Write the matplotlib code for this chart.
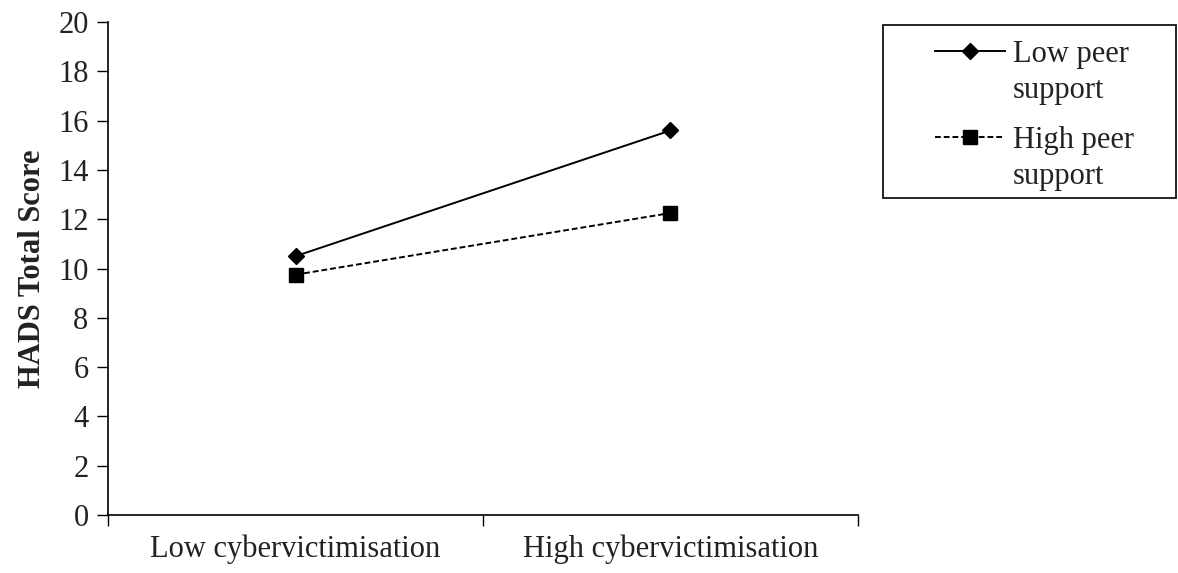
import matplotlib.pyplot as plt
import matplotlib.patches as mpatches
import numpy as np

categories = ['Low cybervictimisation', 'High cybervictimisation']
low_peer = [10.5, 15.6]
high_peer = [9.75, 12.25]
series_labels = ['Low peer', 'High peer']
label_second_line = 'support'
y_ticks = np.arange(0, 21, 2)

plt.rcParams['font.family'] = ['Liberation Serif', 'DejaVu Serif']
W, H = 1178, 573

fig = plt.figure(figsize=(W / 100, H / 100), dpi=100)
ax = fig.add_axes([0.0917, 0.1012, 0.6366, 0.8604])

x = np.arange(len(categories))
ax.plot(x, low_peer, color='black', linewidth=1.4, marker='D', markersize=8,
        label=series_labels[0])
ax.plot(x, high_peer, color='black', linewidth=1.4, linestyle=(0, (3, 1.5)),
        marker='s', markersize=10, label=series_labels[1])

ax.set_xlim(-0.5, len(categories) - 0.5)
ax.set_ylim(0, 20)
ax.set_yticks(y_ticks)
ax.tick_params(axis='y', labelsize=22, length=8, width=1, direction='out', pad=6,
               labelcolor='#222222')

# category boundaries as major ticks, labels on minor ticks at centres
ax.set_xticks(np.arange(-0.5, len(categories), 1.0))
ax.set_xticklabels([])
ax.set_xticks(x, minor=True)
ax.set_xticklabels(categories, minor=True)
ax.tick_params(axis='x', which='major', length=8, width=1, direction='out')
ax.tick_params(axis='x', which='minor', length=0, labelsize=22, pad=14,
               labelcolor='#222222')

for side in ['top', 'right']:
    ax.spines[side].set_visible(False)
for side in ['left', 'bottom']:
    ax.spines[side].set_linewidth(1.2)

ax.set_ylabel('HADS Total Score', fontsize=22, fontweight='bold', labelpad=8,
              color='#222222')

leg = fig.legend(loc='upper left', bbox_to_anchor=(935 / W, 1 - 40 / H),
                 fontsize=22, frameon=False, handlelength=2.3,
                 handletextpad=0.25, labelspacing=1.87, borderpad=0,
                 borderaxespad=0)
for t in leg.get_texts():
    t.set_color('#222222')

# second line of each label sits under the first, handle stays on line one
fig.canvas.draw()
for t in leg.get_texts():
    bb = t.get_window_extent()
    yc = (bb.y0 + bb.y1) / 2 - 36
    fig.text(bb.x0 / W, yc / H, label_second_line, fontsize=22,
             color='#222222', va='center', ha='left')

# legend box drawn separately (wider than its contents, as in the original)
box = mpatches.Rectangle((883 / W, 1 - 198 / H), 293 / W, 173 / H,
                         transform=fig.transFigure, fill=False,
                         edgecolor='black', linewidth=1.2)
fig.patches.append(box)

fig.savefig('out.png', dpi=100)
